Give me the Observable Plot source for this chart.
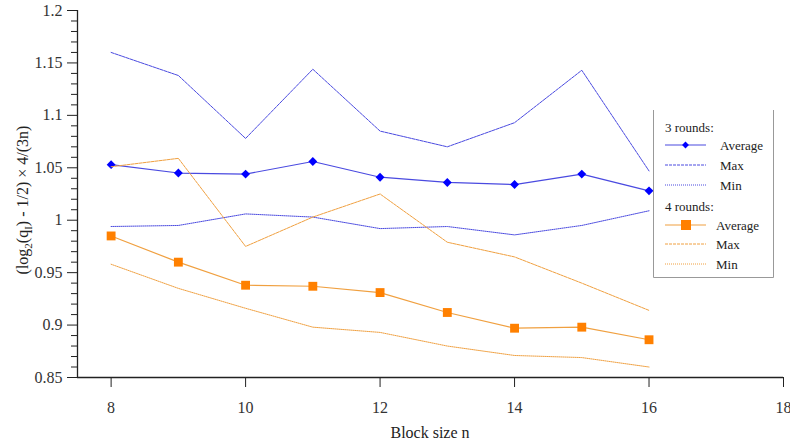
<!DOCTYPE html>
<html>
<head>
<meta charset="utf-8">
<script src="https://cdn.jsdelivr.net/npm/d3@7"></script>
<script src="https://cdn.jsdelivr.net/npm/@observablehq/plot@0.6"></script>
<style>
  html, body { margin: 0; padding: 0; background: #fff; }
  #chart svg { display: block; }
</style>
</head>
<body>
<div id="chart"></div>
<script>
const blockSizes = [8, 9, 10, 11, 12, 13, 14, 15, 16];
const avg3 = [1.053, 1.045, 1.044, 1.056, 1.041, 1.036, 1.034, 1.044, 1.028];
const max3 = [1.160, 1.138, 1.078, 1.144, 1.085, 1.070, 1.093, 1.143, 1.047];
const min3 = [0.994, 0.995, 1.006, 1.003, 0.992, 0.994, 0.986, 0.995, 1.009];
const avg4 = [0.985, 0.960, 0.938, 0.937, 0.931, 0.912, 0.897, 0.898, 0.886];
const max4 = [1.051, 1.059, 0.975, 1.003, 1.025, 0.979, 0.965, 0.940, 0.914];
const min4 = [0.958, 0.935, 0.916, 0.898, 0.893, 0.880, 0.871, 0.869, 0.860];

const xTicks = [8, 10, 12, 14, 16, 18];
const yTicks = [0.85, 0.9, 0.95, 1, 1.05, 1.1, 1.15, 1.2];
const yMinor = d3.range(85, 121).filter(i => i % 5 !== 0).map(i => i / 100);

const blueLine = "#4a4ae0";
const blueMark = "#0000ff";
const orangeLine = "#f0a040";
const orangeMark = "#ff8000";

const rows = (vals) => blockSizes.map((n, i) => ({n, v: vals[i]}));

const plot = Plot.plot({
  width: 790,
  height: 446,
  marginLeft: 77,
  marginRight: 7,
  marginTop: 10,
  marginBottom: 69,
  x: {domain: [7.5, 18]},
  y: {domain: [0.85, 1.2]},
  style: {fontFamily: "'Liberation Serif', serif", fontSize: "16px", background: "#fff", color: "#222"},
  marks: [
    Plot.axisY({ticks: yMinor, tickSize: 6, tickFormat: () => "", label: null, stroke: "#222"}),
    Plot.axisY({ticks: yTicks, tickSize: 10, tickPadding: 5, tickFormat: d => String(+d.toFixed(2)), label: null, stroke: "#222", fill: "#333"}),
    Plot.axisX({ticks: xTicks, tickSize: 10, tickPadding: 14, tickFormat: d => String(d), label: null, stroke: "#222", fill: "#333"}),
    Plot.ruleX([7.5], {stroke: "#222", strokeWidth: 1.3}),
    Plot.ruleY([0.85], {stroke: "#222", strokeWidth: 1.3}),
    Plot.line(rows(max3), {x: "n", y: "v", stroke: blueLine, strokeWidth: 1, strokeDasharray: "3,1"}),
    Plot.line(rows(min3), {x: "n", y: "v", stroke: blueLine, strokeWidth: 1, strokeDasharray: "1,1"}),
    Plot.line(rows(avg3), {x: "n", y: "v", stroke: blueLine, strokeWidth: 1.2}),
    Plot.dot(rows(avg3), {x: "n", y: "v", symbol: "diamond2", r: 4, fill: blueMark, stroke: "none"}),
    Plot.line(rows(max4), {x: "n", y: "v", stroke: orangeLine, strokeWidth: 1, strokeDasharray: "3,1"}),
    Plot.line(rows(min4), {x: "n", y: "v", stroke: orangeLine, strokeWidth: 1, strokeDasharray: "1,1"}),
    Plot.line(rows(avg4), {x: "n", y: "v", stroke: orangeLine, strokeWidth: 1.2}),
    Plot.dot(rows(avg4), {x: "n", y: "v", symbol: "square", r: 5, fill: orangeMark, stroke: "none"})
  ]
});

document.getElementById("chart").appendChild(plot);

const svg = d3.select(plot);
const font = "'Liberation Serif', serif";

// X axis title
svg.append("text")
  .attr("x", 430).attr("y", 438)
  .attr("text-anchor", "middle")
  .attr("font-family", font).attr("font-size", 16).attr("fill", "#222")
  .text("Block size n");

// Y axis title with subscripts
const yl = svg.append("text")
  .attr("transform", "translate(28,200) rotate(-90)")
  .attr("text-anchor", "middle")
  .attr("font-family", font).attr("font-size", 16).attr("fill", "#222");
yl.append("tspan").text("(log");
yl.append("tspan").attr("font-size", 11).attr("dy", 4).text("2");
yl.append("tspan").attr("dy", -4).text("(q");
yl.append("tspan").attr("font-size", 11).attr("dy", 4).text("I");
yl.append("tspan").attr("dy", -4).text(") - 1/2) × 4/(3n)");

// Legend
const lg = svg.append("g").attr("font-family", font).attr("font-size", 13).attr("fill", "#222").attr("text-anchor", "start");
lg.append("path").attr("d", "M653.5,110 V277.5 H773.5 V110").attr("fill", "none").attr("stroke", "#999").attr("stroke-width", 1);
const entries = [
  {type: "head", label: "3 rounds:", y: 127},
  {type: "avg", label: "Average", y: 145, c: blueLine, m: blueMark, sym: "diamond", tx: 720},
  {type: "max", label: "Max", y: 165, c: blueLine, tx: 720},
  {type: "min", label: "Min", y: 185, c: blueLine, tx: 720},
  {type: "head", label: "4 rounds:", y: 206},
  {type: "avg", label: "Average", y: 225, c: orangeLine, m: orangeMark, sym: "square", tx: 716},
  {type: "max", label: "Max", y: 244, c: orangeLine, tx: 716},
  {type: "min", label: "Min", y: 264, c: orangeLine, tx: 716}
];
for (const e of entries) {
  if (e.type === "head") {
    lg.append("text").attr("x", 665).attr("y", e.y).attr("dy", "0.35em").attr("text-anchor", "start").text(e.label);
    continue;
  }
  const ln = lg.append("line").attr("x1", 665).attr("x2", 706).attr("y1", e.y).attr("y2", e.y)
    .attr("stroke", e.c).attr("stroke-width", e.type === "avg" ? 1.2 : 1);
  if (e.type === "max") ln.attr("stroke-dasharray", "3,1");
  if (e.type === "min") ln.attr("stroke-dasharray", "1,1");
  if (e.sym === "diamond") {
    lg.append("path").attr("transform", `translate(685.5,${e.y})`)
      .attr("d", d3.symbol(d3.symbolDiamond2, 30)()).attr("fill", e.m);
  } else if (e.sym === "square") {
    lg.append("rect").attr("x", 681).attr("y", e.y - 5).attr("width", 10).attr("height", 10).attr("fill", e.m);
  }
  lg.append("text").attr("x", e.tx).attr("y", e.y).attr("dy", "0.35em").attr("text-anchor", "start").text(e.label);
}
</script>
</body>
</html>
